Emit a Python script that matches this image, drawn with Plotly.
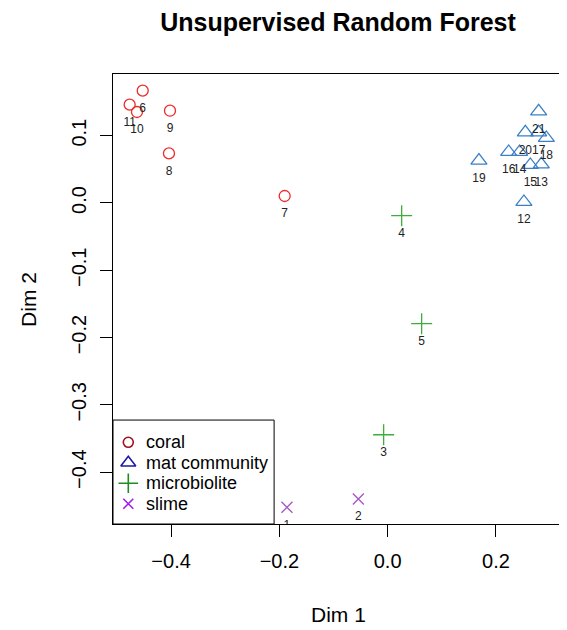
import plotly.graph_objects as go

# ---- data ----
coral_id = [6, 7, 8, 9, 10, 11]
coral_x = [-0.4524, -0.1902, -0.4039, -0.4020, -0.4630, -0.4765]
coral_y = [0.1669, 0.0104, 0.0737, 0.1371, 0.1352, 0.1461]

mat_id = [12, 13, 14, 15, 16, 17, 18, 19, 20, 21]
mat_x = [0.2517, 0.2838, 0.2438, 0.2635, 0.2235, 0.2789, 0.2931, 0.1686, 0.2543, 0.2789]
mat_y = [0.0015, 0.0574, 0.0758, 0.0565, 0.0758, 0.1049, 0.0966, 0.0629, 0.1049, 0.1361]

micro_id = [3, 4, 5]
micro_x = [-0.0074, 0.0259, 0.0628]
micro_y = [-0.3444, -0.0189, -0.1793]

slime_id = [1, 2]
slime_x = [-0.1860, -0.0541]
slime_y = [-0.4523, -0.4398]

groups = ["coral", "mat community", "microbiolite", "slime"]
x_ticks = [-0.4, -0.2, 0.0, 0.2]
y_ticks = [0.1, 0.0, -0.1, -0.2, -0.3, -0.4]

# ---- style ----
FONT = "Liberation Sans, Arial, sans-serif"
pt_colors = ["#EE2A2A", "#3A7FC6", "#3DAE3D", "#A455C2"]
leg_colors = ["#A0101A", "#1A1AA8", "#228B22", "#A020F0"]
symbols = ["circle-open", "triangle-up-open", "cross-thin-open", "x-thin-open"]
sizes = [11, 14, 15, 11]

series = [
    (coral_x, coral_y, coral_id),
    (mat_x, mat_y, mat_id),
    (micro_x, micro_y, micro_id),
    (slime_x, slime_y, slime_id),
]

fig = go.Figure()
for i, (xs, ys, ids) in enumerate(series):
    fig.add_trace(go.Scatter(
        x=xs, y=ys, mode="markers", showlegend=False,
        marker=dict(symbol=symbols[i], size=sizes[i], color=pt_colors[i],
                    line=dict(width=1.3, color=pt_colors[i])),
        hoverinfo="skip", cliponaxis=True,
    ))
    # point number labels (clipped to the plot region like the reference)
    fig.add_trace(go.Scatter(
        x=xs, y=ys, mode="markers+text", showlegend=False,
        text=[str(v) for v in ids], textposition="bottom center",
        textfont=dict(family=FONT, size=12, color="#222222"),
        marker=dict(size=18, color="rgba(0,0,0,0)"),
        hoverinfo="skip", cliponaxis=True,
    ))

# ---- manual legend (layout positions, paper fraction of the plot area) ----
LEG_W, LEG_H = 0.358, 0.231
leg_sym_x, leg_txt_x = 0.034, 0.0696
leg_row_y = [0.1816 - 0.0455 * i for i in range(len(groups))]

fig.add_shape(type="rect", xref="paper", yref="paper", x0=0, y0=0, x1=LEG_W, y1=LEG_H,
              line=dict(color="black", width=1), fillcolor="white", layer="below")
for i, name in enumerate(groups):
    fig.add_trace(go.Scatter(
        x=[leg_sym_x], y=[leg_row_y[i]], xaxis="x2", yaxis="y2", mode="markers",
        showlegend=False, hoverinfo="skip",
        marker=dict(symbol=symbols[i], size=sizes[i] - 1, color=leg_colors[i],
                    line=dict(width=1.6, color=leg_colors[i])),
    ))
    fig.add_annotation(x=leg_txt_x, y=leg_row_y[i], xref="paper", yref="paper",
                       text=name, showarrow=False, xanchor="left", yanchor="middle",
                       font=dict(family=FONT, size=18, color="black"))

allx = coral_x + mat_x + micro_x + slime_x
ally = coral_y + mat_y + micro_y + slime_y
dx = (max(allx) - min(allx)) * 0.04
dy = (max(ally) - min(ally)) * 0.04

axis_common = dict(
    showgrid=False, zeroline=False, showline=True, linecolor="black", linewidth=1,
    mirror=True, ticks="outside", ticklen=12, tickwidth=1, tickcolor="black",
    tickfont=dict(family=FONT, size=20, color="black"), automargin=False,
)

# the page body adds an 8px offset, so the figure is 8px smaller than the window
W, H = 559, 622
fig.update_layout(
    width=W, height=H,
    margin=dict(l=105, r=4, t=66, b=106),
    paper_bgcolor="white", plot_bgcolor="white",
    title=dict(text="<b>Unsupervised Random Forest</b>", x=0.5, xref="paper",
               y=1 - 14 / H, yref="container", yanchor="middle",
               font=dict(family=FONT, size=25, color="black")),
    xaxis=dict(range=[min(allx) - dx, max(allx) + dx], tickvals=x_ticks,
               ticktext=[f"{v:.1f}".replace("-", "\u2212") for v in x_ticks],
               ticklabelstandoff=7, **axis_common),
    yaxis=dict(range=[min(ally) - dy, max(ally) + dy], tickvals=y_ticks,
               ticktext=[f"{v:.1f}".replace("-", "\u2212") for v in y_ticks],
               tickangle=-90, ticklabelstandoff=6, **axis_common),
    xaxis2=dict(overlaying="x", range=[0, 1], visible=False, fixedrange=True),
    yaxis2=dict(overlaying="y", range=[0, 1], visible=False, fixedrange=True),
    annotations=list(fig.layout.annotations) + [
        dict(text="Dim 1", x=0.5, y=-0.2, xref="paper", yref="paper", showarrow=False,
             xanchor="center", yanchor="middle", font=dict(family=FONT, size=21, color="black")),
        dict(text="Dim 2", x=-0.189, y=0.5, xref="paper", yref="paper", showarrow=False,
             textangle=-90, xanchor="center", yanchor="middle",
             font=dict(family=FONT, size=21, color="black")),
    ],
)

fig.write_html("out.html")
